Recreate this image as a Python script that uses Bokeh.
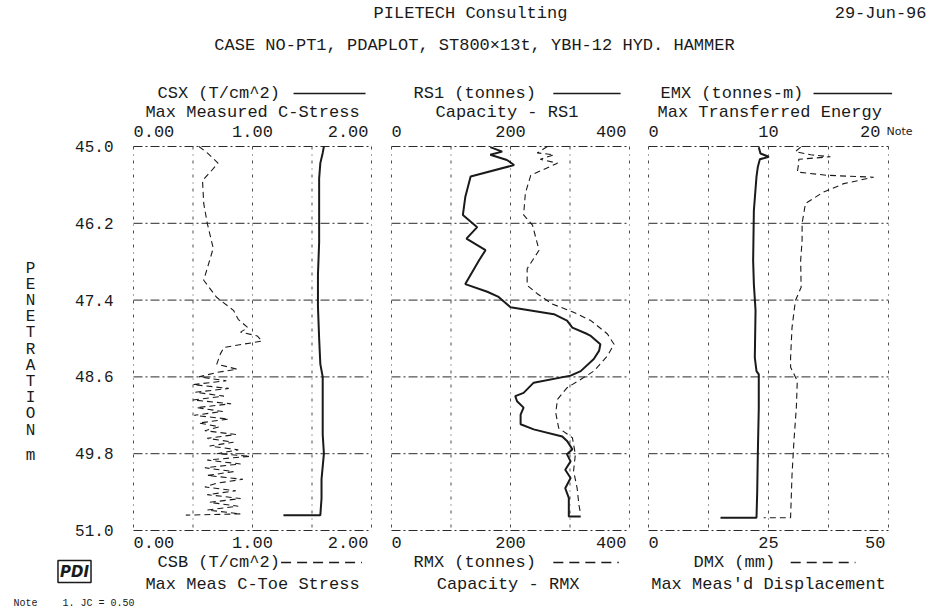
from bokeh.plotting import figure
from bokeh.models import Range1d, Label
from bokeh.core.properties import value
from bokeh.embed import file_html
from bokeh.resources import INLINE

FONT = "Liberation Mono"
SANS = "DejaVu Sans"
INK = "#1a1a1a"

# ---------------- data ----------------
depth_ticks = [45.0, 46.2, 47.4, 48.6, 49.8, 51.0]
depth_labels = ["45.0", "46.2", "47.4", "48.6", "49.8", "51.0"]

p1_ticks = [0.0, 1.0, 2.0]
p1_labels = ["0.00", "1.00", "2.00"]
p1_grid = [0.0, 0.5, 1.0, 1.5, 2.0]
p2_ticks = [0, 200, 400]
p2_labels = ["0", "200", "400"]
p2_grid = [0, 100, 200, 300, 400]
p3_top_ticks = [0, 10, 20]
p3_top_labels = ["0", "10", "20"]
p3_grid = [0, 5, 10, 15, 20]
p3_bot_ticks = [0, 25, 50]
p3_bot_labels = ["0", "25", "50"]

csx_depth = [45.00, 45.10, 45.26, 45.50, 46.00, 46.50, 47.00, 47.50, 48.00, 48.40,
             48.60, 49.00, 49.50, 49.80, 50.20, 50.50, 50.76, 50.76]
csx = [1.60, 1.59, 1.57, 1.56, 1.56, 1.56, 1.55, 1.55, 1.56, 1.57,
       1.59, 1.59, 1.59, 1.60, 1.58, 1.58, 1.57, 1.26]

csb_depth = [45.00, 45.10, 45.26, 45.39, 45.53, 45.89, 46.20, 46.59, 47.09, 47.36,
             47.56, 47.70, 47.83, 47.90, 47.96, 48.04, 48.14, 48.24, 48.40, 48.48,
             48.53, 48.60, 48.66, 48.72, 48.78, 48.84, 48.90, 48.96, 49.02, 49.08,
             49.14, 49.20, 49.26, 49.32, 49.38, 49.44, 49.50, 49.56, 49.62, 49.68,
             49.74, 49.80, 49.84, 49.90, 49.96, 50.02, 50.08, 50.14, 50.20, 50.26,
             50.32, 50.38, 50.44, 50.50, 50.56, 50.62, 50.68, 50.74, 50.76]
csb = [0.55, 0.62, 0.71, 0.65, 0.58, 0.59, 0.62, 0.67, 0.59, 0.70,
       0.84, 0.88, 0.96, 0.90, 1.04, 1.08, 0.76, 0.73, 0.70, 0.87,
       0.70, 0.55, 0.78, 0.50, 0.80, 0.52, 0.76, 0.50, 0.82, 0.53,
       0.75, 0.51, 0.80, 0.55, 0.72, 0.60, 0.86, 0.62, 0.84, 0.64,
       0.88, 0.70, 0.98, 0.62, 0.90, 0.60, 0.84, 0.62, 0.92, 0.70,
       0.60, 0.86, 0.62, 0.90, 0.64, 0.88, 0.62, 0.90, 0.44]

rs1_depth = [45.01, 45.08, 45.13, 45.21, 45.29, 45.47, 45.79, 46.07, 46.26, 46.44,
             46.62, 46.78, 47.15, 47.27, 47.35, 47.51, 47.62, 47.72, 47.83, 47.93,
             47.96, 48.09, 48.19, 48.32, 48.51, 48.58, 48.69, 48.85, 48.90, 48.98,
             49.08, 49.19, 49.34, 49.42, 49.53, 49.60, 49.73, 49.81, 49.92, 50.05,
             50.18, 50.34, 50.49, 50.65, 50.78, 50.78]
rs1 = [166, 186, 166, 194, 206, 133, 124, 120, 144, 126,
       158, 147, 124, 161, 180, 200, 273, 295, 304, 329,
       335, 351, 349, 340, 318, 301, 239, 222, 208, 211,
       222, 217, 217, 239, 287, 295, 304, 295, 301, 292,
       301, 292, 298, 298, 298, 318]

rmx_depth = [45.00, 45.10, 45.13, 45.20, 45.26, 45.45, 45.73, 46.07, 46.23, 46.62,
             46.91, 47.17, 47.30, 47.46, 47.59, 47.72, 47.93, 48.09, 48.27, 48.51,
             48.61, 48.77, 48.95, 49.16, 49.40, 49.55, 49.81, 50.07, 50.34, 50.60,
             50.75]
rmx = [262, 245, 273, 250, 279, 234, 225, 222, 237, 248,
       228, 228, 245, 270, 306, 335, 363, 374, 363, 340,
       323, 295, 279, 276, 281, 304, 309, 306, 312, 315,
       318]

emx_depth = [45.01, 45.11, 45.16, 45.20, 45.32, 45.47, 46.00, 46.78, 47.15, 47.56,
             48.30, 48.51, 48.56, 49.08, 49.81, 50.39, 50.80, 50.80]
emx = [9.19, 9.33, 10.03, 9.28, 9.11, 9.00, 8.78, 8.72, 8.78, 8.92,
       8.86, 9.00, 9.19, 9.19, 9.11, 9.06, 9.00, 6.00]

dmx_depth = [45.01, 45.08, 45.13, 45.16, 45.20, 45.26, 45.40, 45.45, 45.48, 45.58,
             45.71, 45.89, 46.20, 46.47, 46.78, 47.20, 47.41, 47.83, 48.30, 48.45,
             48.66, 49.08, 49.60, 50.13, 50.80, 50.80]
dmx = [31.7, 30.6, 33.8, 37.9, 31.3, 31.3, 31.0, 37.2, 46.9, 40.7,
       36.5, 32.7, 32.0, 32.0, 31.7, 31.8, 30.6, 29.9, 29.6, 29.6,
       31.0, 30.8, 30.3, 29.9, 29.6, 24.0]

# ---------------- page layout (pixels) ----------------
W, H = 930, 612
TOP, BOT = 146, 530           # depth frame top / bottom
P1 = (133, 371)
P2 = (391, 629)
P3 = (648, 888)
Y_T1, Y_T2, Y_TICK = 93, 112, 131
Y_BTICK, Y_B1, Y_B2 = 542, 562, 584

H_DASH = "9 3 2 3"
V_DASH = "3 5 1 5"
DATA_DASH = "6 4"


def xr(v0, v1, p0, p1):
    s = (v1 - v0) / (p1 - p0)
    return Range1d(start=v0 - p0 * s, end=v0 + (W - p0) * s)


def yr(v0, v1, p0, p1):
    s = (v1 - v0) / (p1 - p0)
    return Range1d(start=v0 + (H - p0) * s, end=v0 - p0 * s)


p = figure(width=W, height=H, x_range=Range1d(0, W), y_range=Range1d(H, 0),
           output_backend="svg", toolbar_location=None,
           x_axis_location=None, y_axis_location=None, min_border=0)
p.grid.visible = False
p.outline_line_color = None
p.extra_x_ranges = {
    "p1": xr(0, 2.0, *P1),
    "p2": xr(0, 400, *P2),
    "p3": xr(0, 20, *P3),
    "p3b": xr(0, 50, *P3),
}
p.extra_y_ranges = {"d": yr(45.0, 51.0, TOP, BOT)}


def lab(text, x, y, align="center", size="17px", font=FONT, xr_name="default",
        yr_name="default", style="normal", dx=0, **kw):
    p.add_layout(Label(x=x, y=y, x_offset=dx, text=text, text_align=align,
                       text_baseline="middle", text_font=font, text_font_size=size,
                       text_font_style=style, text_color=INK,
                       x_range_name=xr_name, y_range_name=yr_name, **kw))


def frame(name, grid, lo, hi):
    p.segment(x0=[lo] * len(depth_ticks), x1=[hi] * len(depth_ticks),
              y0=depth_ticks, y1=depth_ticks, x_range_name=name, y_range_name="d",
              line_color="#2a2a2a", line_width=1, line_dash=H_DASH)
    p.segment(x0=grid, x1=grid, y0=[45.0] * len(grid), y1=[51.0] * len(grid),
              x_range_name=name, y_range_name="d",
              line_color="#4a4a4a", line_width=1, line_dash=V_DASH)


def ticks(name, vals, labels, y, right_dx=-3):
    aligns = ["left", "center", "right"]
    dxs = [0, 0, right_dx]
    for v, s, a, d in zip(vals, labels, aligns, dxs):
        lab(s, v, y, align=a, xr_name=name, dx=d)


def sample(name, x0, x1, y, dash=None):
    kw = dict(line_dash=dash) if dash else {}
    p.segment(x0=[x0], x1=[x1], y0=[y], y1=[y], x_range_name=name,
              line_color=INK, line_width=1.5, **kw)


# ---------------- header ----------------
lab("PILETECH Consulting", 470, 13)
lab("29-Jun-96", 926, 13, align="right")
lab("CASE NO-PT1, PDAPLOT, ST800×13t, YBH-12 HYD. HAMMER", 474, 45)

# ---------------- depth axis ----------------
p.text(x=[113] * len(depth_ticks), y=depth_ticks, text=depth_labels, y_range_name="d",
       text_align="right", text_baseline="middle", text_font=value(FONT),
       text_font_size=value("16px"), text_color=INK)
letters = list("PENETRATION")
for i, ch in enumerate(letters):
    lab(ch, 30, 268 + i * 16.2, size="16px")
lab("m", 30, 455, size="16px")

# ---------------- panel 1 ----------------
frame("p1", p1_grid, 0, 2.0)
p.line(csx, csx_depth, x_range_name="p1", y_range_name="d", line_color=INK, line_width=2)
p.line(csb, csb_depth, x_range_name="p1", y_range_name="d", line_color=INK,
       line_width=1.1, line_dash=DATA_DASH)
ticks("p1", p1_ticks, p1_labels, Y_TICK)
ticks("p1", p1_ticks, p1_labels, Y_BTICK)
lab("CSX (T/cm^2)", 157, Y_T1, align="left")
sample("p1", 1.345, 1.95, Y_T1)
lab("Max Measured C-Stress", 1.0, Y_T2, xr_name="p1")
lab("CSB (T/cm^2)", 157, Y_B1, align="left")
sample("p1", 1.24, 1.92, Y_B1, dash="10 6")
lab("Max Meas C-Toe Stress", 1.0, Y_B2, xr_name="p1")

# ---------------- panel 2 ----------------
frame("p2", p2_grid, 0, 400)
p.line(rs1, rs1_depth, x_range_name="p2", y_range_name="d", line_color=INK, line_width=2)
p.line(rmx, rmx_depth, x_range_name="p2", y_range_name="d", line_color=INK,
       line_width=1.1, line_dash=DATA_DASH)
ticks("p2", p2_ticks, p2_labels, Y_TICK)
ticks("p2", p2_ticks, p2_labels, Y_BTICK)
lab("RS1 (tonnes)", 413, Y_T1, align="left")
sample("p2", 272, 385, Y_T1)
lab("Capacity - RS1", 194, Y_T2, xr_name="p2")
lab("RMX (tonnes)", 413, Y_B1, align="left")
sample("p2", 272, 382, Y_B1, dash="10 6")
lab("Capacity - RMX", 196, Y_B2, xr_name="p2")

# ---------------- panel 3 ----------------
frame("p3", p3_grid, 0, 20)
p.line(emx, emx_depth, x_range_name="p3", y_range_name="d", line_color=INK, line_width=2)
p.line(dmx, dmx_depth, x_range_name="p3b", y_range_name="d", line_color=INK,
       line_width=1.1, line_dash=DATA_DASH)
ticks("p3", p3_top_ticks, p3_top_labels, Y_TICK, right_dx=-8)
ticks("p3b", p3_bot_ticks, p3_bot_labels, Y_BTICK)
lab("Note", 886, Y_TICK, align="left", size="11px", font=SANS)
lab("EMX (tonnes-m)", 660, Y_T1, align="left")
sample("p3", 13.75, 20.3, Y_T1)
lab("Max Transferred Energy", 10.1, Y_T2, xr_name="p3")
lab("DMX (mm)", 693, Y_B1, align="left")
sample("p3", 11.85, 17.25, Y_B1, dash="10 6")
lab("Max Meas'd Displacement", 10.0, Y_B2, xr_name="p3")

# ---------------- logo & note ----------------
lab("PDI", 74, 571, size="15px", font=SANS, style="bold italic",
    border_line_color=INK, border_line_width=1.5, padding=2)
lab("Note", 13, 603, align="left", size="10px", font=FONT)
lab("1. JC = 0.50", 62, 603, align="left", size="10px", font=FONT)

open("out.html", "w").write(file_html(p, INLINE))
